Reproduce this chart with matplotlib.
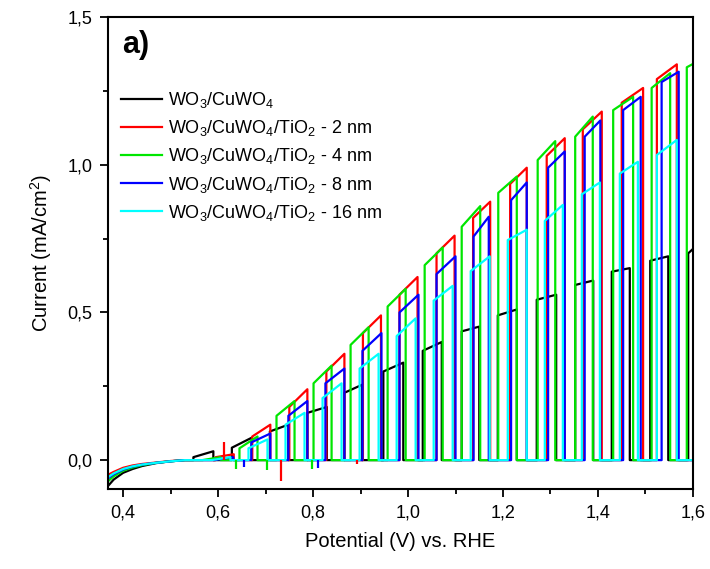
import matplotlib
matplotlib.use("Agg")
import matplotlib.pyplot as plt
from matplotlib.ticker import MultipleLocator, FuncFormatter

plt.rcParams['font.family'] = ['Liberation Sans', 'DejaVu Sans']
plt.rcParams['mathtext.fontset'] = 'custom'
plt.rcParams['mathtext.rm'] = 'Liberation Sans'
plt.rcParams['mathtext.it'] = 'Liberation Sans:italic'
plt.rcParams['mathtext.bf'] = 'Liberation Sans:bold'

# dark current at the start of the sweep (V vs RHE, mA/cm2)
dark_v = [0.368, 0.38, 0.40, 0.42, 0.44, 0.47, 0.50, 0.53]
dark_black = [-0.088, -0.066, -0.043, -0.030, -0.020, -0.010, -0.004, 0.0]
dark_red = [-0.050, -0.040, -0.026, -0.018, -0.013, -0.008, -0.003, 0.0]
dark_green = [-0.072, -0.055, -0.036, -0.025, -0.017, -0.009, -0.004, 0.0]
dark_blue = [-0.062, -0.048, -0.032, -0.022, -0.015, -0.009, -0.004, 0.0]
dark_cyan = [-0.058, -0.045, -0.030, -0.021, -0.015, -0.009, -0.004, 0.0]

# light-on pulses: switch-on potential, switch-off potential, current at on, current at off
blk_on = [0.548, 0.629, 0.709, 0.788, 0.866, 0.948, 1.031, 1.113, 1.189, 1.271, 1.352, 1.429, 1.510, 1.590]
blk_off = [0.590, 0.671, 0.748, 0.829, 0.903, 0.990, 1.071, 1.150, 1.229, 1.312, 1.390, 1.467, 1.548, 1.610]
blk_i_on = [0.010, 0.042, 0.097, 0.160, 0.228, 0.300, 0.370, 0.436, 0.490, 0.543, 0.593, 0.638, 0.675, 0.700]
blk_i_off = [0.030, 0.076, 0.120, 0.180, 0.255, 0.330, 0.400, 0.452, 0.510, 0.560, 0.608, 0.650, 0.690, 0.730]

red_on = [0.595, 0.672, 0.750, 0.828, 0.905, 0.982, 1.060, 1.137, 1.215, 1.292, 1.368, 1.450, 1.524]
red_off = [0.633, 0.710, 0.788, 0.866, 0.943, 1.020, 1.098, 1.173, 1.250, 1.330, 1.408, 1.495, 1.566]
red_i_on = [0.010, 0.080, 0.180, 0.300, 0.430, 0.560, 0.700, 0.820, 0.935, 1.030, 1.120, 1.210, 1.290]
red_i_off = [0.020, 0.120, 0.240, 0.360, 0.490, 0.620, 0.760, 0.875, 0.990, 1.090, 1.180, 1.260, 1.340]

grn_on = [0.567, 0.645, 0.723, 0.801, 0.879, 0.957, 1.035, 1.113, 1.190, 1.273, 1.352, 1.432, 1.513, 1.587]
grn_off = [0.605, 0.683, 0.761, 0.839, 0.917, 0.995, 1.073, 1.152, 1.229, 1.310, 1.389, 1.474, 1.552, 1.610]
grn_i_on = [0.000, 0.040, 0.150, 0.260, 0.390, 0.520, 0.660, 0.790, 0.905, 1.016, 1.095, 1.185, 1.260, 1.330]
grn_i_off = [0.010, 0.080, 0.200, 0.320, 0.450, 0.580, 0.720, 0.860, 0.960, 1.080, 1.163, 1.230, 1.310, 1.350]

blu_on = [0.592, 0.670, 0.748, 0.826, 0.904, 0.982, 1.060, 1.138, 1.217, 1.295, 1.372, 1.453, 1.534]
blu_off = [0.632, 0.710, 0.788, 0.866, 0.944, 1.022, 1.100, 1.170, 1.250, 1.330, 1.405, 1.490, 1.570]
blu_i_on = [0.000, 0.060, 0.150, 0.260, 0.370, 0.500, 0.630, 0.757, 0.880, 0.990, 1.095, 1.185, 1.280]
blu_i_off = [0.010, 0.090, 0.200, 0.310, 0.430, 0.560, 0.690, 0.824, 0.940, 1.045, 1.150, 1.230, 1.315]

cyn_on = [0.586, 0.664, 0.742, 0.820, 0.898, 0.976, 1.054, 1.132, 1.210, 1.288, 1.366, 1.446, 1.524]
cyn_off = [0.626, 0.704, 0.782, 0.860, 0.938, 1.016, 1.094, 1.172, 1.250, 1.326, 1.404, 1.484, 1.566]
cyn_i_on = [0.000, 0.040, 0.120, 0.210, 0.310, 0.420, 0.540, 0.640, 0.745, 0.810, 0.900, 0.970, 1.033]
cyn_i_off = [0.010, 0.070, 0.160, 0.260, 0.360, 0.480, 0.590, 0.690, 0.780, 0.864, 0.940, 1.010, 1.084]

# switching transients at low potential (potential, spike current)
red_spike_v = [0.613, 0.732, 0.892]
red_spike_i = [0.060, -0.072, -0.012]
grn_spike_v = [0.637, 0.703, 0.798]
grn_spike_i = [-0.030, -0.032, -0.030]
blu_spike_v = [0.654, 0.811]
blu_spike_i = [-0.022, -0.028]

labels = ['WO$_3$/CuWO$_4$',
          'WO$_3$/CuWO$_4$/TiO$_2$ - 2 nm',
          'WO$_3$/CuWO$_4$/TiO$_2$ - 4 nm',
          'WO$_3$/CuWO$_4$/TiO$_2$ - 8 nm',
          'WO$_3$/CuWO$_4$/TiO$_2$ - 16 nm']
colors = ['black', '#ff0000', '#00e600', '#0000ff', '#00ffff']


def chopped_trace(dv, di, v_on, v_off, i_on, i_off):
    xs, ys = list(dv), list(di)
    for a, b, ia, ib in zip(v_on, v_off, i_on, i_off):
        xs += [a, a, b, b]
        ys += [0.0, ia, ib, 0.0]
    xs.append(1.65)
    ys.append(0.0)
    return xs, ys


series = [
    (dark_black, blk_on, blk_off, blk_i_on, blk_i_off),
    (dark_red, red_on, red_off, red_i_on, red_i_off),
    (dark_green, grn_on, grn_off, grn_i_on, grn_i_off),
    (dark_blue, blu_on, blu_off, blu_i_on, blu_i_off),
    (dark_cyan, cyn_on, cyn_off, cyn_i_on, cyn_i_off),
]

fig = plt.figure(figsize=(7.1, 5.69), dpi=100)
ax = fig.add_axes([0.152, 0.141, 0.824, 0.829])

for (dk, on, off, ion, ioff), lab, col in zip(series, labels, colors):
    x, y = chopped_trace(dark_v, dk, on, off, ion, ioff)
    ax.plot(x, y, color=col, lw=1.6, label=lab)

ax.vlines(red_spike_v, 0, red_spike_i, color=colors[1], lw=1.6)
ax.vlines(grn_spike_v, 0, grn_spike_i, color=colors[2], lw=1.6)
ax.vlines(blu_spike_v, 0, blu_spike_i, color=colors[3], lw=1.6)

ax.set_xlim(0.368, 1.6)
ax.set_ylim(-0.097, 1.5)

ax.xaxis.set_major_locator(MultipleLocator(0.2))
ax.xaxis.set_minor_locator(MultipleLocator(0.1))
ax.yaxis.set_major_locator(MultipleLocator(0.5))
ax.yaxis.set_minor_locator(MultipleLocator(0.25))
comma = FuncFormatter(lambda v, p: f"{v:.1f}".replace('.', ','))
ax.xaxis.set_major_formatter(comma)
ax.yaxis.set_major_formatter(comma)

ax.tick_params(which='both', direction='out', top=False, right=False, width=1.3)
ax.tick_params(which='major', length=6, labelsize=13, pad=5)
ax.tick_params(which='minor', length=3.5)
for s in ax.spines.values():
    s.set_linewidth(1.5)

ax.set_xlabel("Potential (V) vs. RHE", fontsize=14.5, labelpad=8)
ax.set_ylabel("Current (mA/cm$^2$)", fontsize=14.5, labelpad=10)

ax.text(0.024, 0.94, "a)", transform=ax.transAxes, fontsize=22,
        fontweight='bold', va='center', ha='left')

ax.legend(loc='upper left', bbox_to_anchor=(0.022, 0.845), frameon=False,
          fontsize=13, handlelength=2.3, handletextpad=0.3, labelspacing=0.45,
          borderaxespad=0, borderpad=0)

plt.savefig("out.png", dpi=100)
